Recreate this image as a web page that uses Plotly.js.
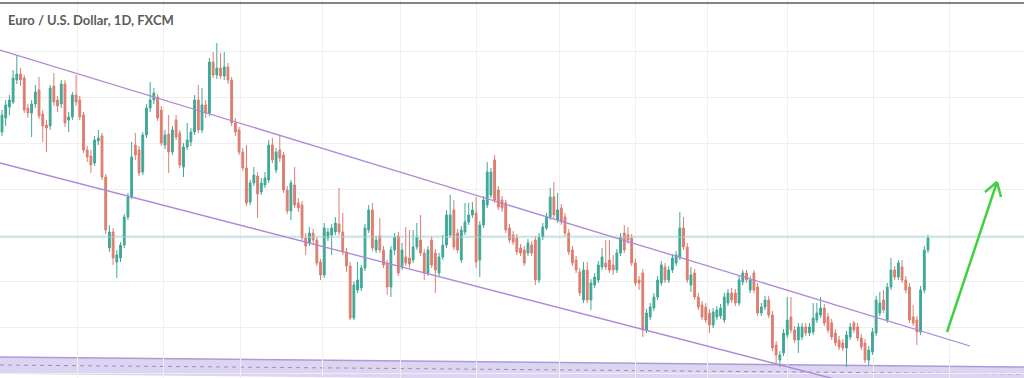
<!DOCTYPE html>
<html>
<head>
<meta charset="utf-8">
<script src="https://cdn.plot.ly/plotly-3.0.1.min.js"></script>
<style>html,body{margin:0;padding:0;background:#fff;}#chart{width:1024px;height:378px;}</style>
</head>
<body>
<div id="chart"></div>
<script>
const titleText = "Euro / U.S. Dollar, 1D, FXCM";

const open = [
1.1768,1.1782,1.1793,1.1798,1.1820,1.1826,1.1822,1.1792,1.1787,1.1796,
1.1810,1.1786,1.1775,1.1774,1.1814,1.1800,1.1796,1.1816,1.1780,1.1783,
1.1805,1.1800,1.1785,1.1750,1.1744,1.1737,1.1759,1.1764,1.1723,1.1652,
1.1668,1.1638,1.1642,1.1655,1.1683,1.1703,1.1755,1.1750,1.1728,1.1765,
1.1792,1.1800,1.1803,1.1790,1.1755,1.1766,1.1748,1.1780,1.1767,1.1733,
1.1753,1.1758,1.1768,1.1800,1.1770,1.1795,1.1787,1.1838,1.1825,1.1832,
1.1824,1.1833,1.1820,1.1777,1.1770,1.1748,1.1732,1.1698,1.1717,1.1724,
1.1708,1.1715,1.1720,1.1755,1.1730,1.1750,1.1745,1.1710,1.1689,1.1715,
1.1697,1.1695,1.1662,1.1657,1.1667,1.1660,1.1638,1.1625,1.1662,1.1665,
1.1668,1.1676,1.1668,1.1648,1.1634,1.1582,1.1610,1.1612,1.1632,1.1670,
1.1690,1.1650,1.1664,1.1650,1.1637,1.1613,1.1650,1.1664,1.1633,1.1643,
1.1642,1.1640,1.1653,1.1660,1.1647,1.1627,1.1660,1.1647,1.1627,1.1643,
1.1655,1.1665,1.1690,1.1667,1.1640,1.1668,1.1678,1.1685,1.1687,1.1640,
1.1675,1.1695,1.1705,1.1740,1.1710,1.1700,1.1697,1.1672,1.1665,1.1662,
1.1652,1.1650,1.1647,1.1655,1.1660,1.1620,1.1663,1.1672,1.1683,1.1703,
1.1680,1.1692,1.1683,1.1667,1.1650,1.1640,1.1628,1.1600,1.1630,1.1600,
1.1615,1.1620,1.1633,1.1637,1.1640,1.1635,1.1630,1.1647,1.1667,1.1665,
1.1662,1.1637,1.1620,1.1627,1.1570,1.1583,1.1592,1.1603,1.1617,1.1633,
1.1620,1.1630,1.1637,1.1643,1.1672,1.1653,1.1615,1.1627,1.1603,1.1595,
1.1593,1.1587,1.1575,1.1583,1.1584,1.1580,1.1597,1.1607,1.1607,1.1597,
1.1618,1.1627,1.1610,1.1627,1.1613,1.1587,1.1593,1.1600,1.1585,1.1555,
1.1540,1.1547,1.1565,1.1583,1.1570,1.1560,1.1563,1.1573,1.1567,1.1568,
1.1580,1.1585,1.1592,1.1583,1.1577,1.1567,1.1560,1.1557,1.1552,1.1563,
1.1577,1.1573,1.1562,1.1557,1.1540,1.1548,1.1567,1.1587,1.1600,1.1580,
1.1613,1.1630,1.1623,1.1633,1.1620,1.1613,1.1583,1.1580,1.1568,1.1610,
1.1650];

const high = [
1.1790,1.1800,1.1805,1.1830,1.1845,1.1832,1.1825,1.1796,1.1800,1.1815,
1.1823,1.1790,1.1780,1.1815,1.1827,1.1804,1.1820,1.1820,1.1788,1.1808,
1.1825,1.1804,1.1788,1.1754,1.1750,1.1764,1.1770,1.1767,1.1726,1.1675,
1.1672,1.1650,1.1658,1.1686,1.1707,1.1758,1.1767,1.1754,1.1768,1.1796,
1.1818,1.1812,1.1806,1.1794,1.1770,1.1785,1.1774,1.1785,1.1770,1.1757,
1.1777,1.1772,1.1805,1.1815,1.1812,1.1800,1.1842,1.1848,1.1857,1.1847,
1.1848,1.1837,1.1823,1.1782,1.1773,1.1752,1.1755,1.1720,1.1733,1.1728,
1.1722,1.1728,1.1760,1.1762,1.1752,1.1765,1.1748,1.1714,1.1720,1.1733,
1.1702,1.1699,1.1667,1.1673,1.1671,1.1663,1.1641,1.1677,1.1672,1.1676,
1.1683,1.1712,1.1687,1.1652,1.1638,1.1619,1.1638,1.1635,1.1676,1.1695,
1.1697,1.1664,1.1682,1.1654,1.1640,1.1654,1.1667,1.1668,1.1657,1.1673,
1.1670,1.1670,1.1677,1.1685,1.1651,1.1654,1.1664,1.1651,1.1647,1.1665,
1.1690,1.1705,1.1700,1.1671,1.1674,1.1697,1.1697,1.1698,1.1703,1.1679,
1.1704,1.1738,1.1732,1.1745,1.1714,1.1704,1.1700,1.1676,1.1669,1.1666,
1.1656,1.1654,1.1661,1.1659,1.1664,1.1667,1.1677,1.1687,1.1712,1.1718,
1.1707,1.1696,1.1687,1.1671,1.1654,1.1644,1.1632,1.1638,1.1638,1.1621,
1.1627,1.1639,1.1652,1.1660,1.1660,1.1645,1.1651,1.1667,1.1675,1.1673,
1.1666,1.1641,1.1624,1.1631,1.1591,1.1597,1.1607,1.1624,1.1639,1.1637,
1.1634,1.1646,1.1649,1.1688,1.1683,1.1657,1.1633,1.1631,1.1607,1.1599,
1.1597,1.1591,1.1592,1.1594,1.1596,1.1607,1.1611,1.1612,1.1611,1.1624,
1.1630,1.1630,1.1624,1.1630,1.1617,1.1597,1.1604,1.1604,1.1589,1.1559,
1.1549,1.1571,1.1603,1.1603,1.1574,1.1577,1.1577,1.1577,1.1577,1.1597,
1.1597,1.1603,1.1596,1.1587,1.1581,1.1571,1.1564,1.1561,1.1569,1.1577,
1.1579,1.1577,1.1566,1.1561,1.1554,1.1572,1.1604,1.1608,1.1610,1.1617,
1.1642,1.1634,1.1640,1.1640,1.1624,1.1617,1.1595,1.1584,1.1614,1.1654,
1.1665];

const low = [
1.1764,1.1774,1.1785,1.1796,1.1816,1.1814,1.1787,1.1782,1.1763,1.1792,
1.1781,1.1758,1.1748,1.1770,1.1794,1.1788,1.1792,1.1773,1.1768,1.1780,
1.1794,1.1780,1.1747,1.1738,1.1727,1.1734,1.1755,1.1720,1.1666,1.1648,
1.1635,1.1622,1.1638,1.1652,1.1680,1.1701,1.1740,1.1724,1.1725,1.1762,
1.1788,1.1796,1.1779,1.1754,1.1751,1.1727,1.1745,1.1760,1.1732,1.1723,
1.1750,1.1754,1.1765,1.1767,1.1767,1.1782,1.1784,1.1822,1.1821,1.1821,
1.1820,1.1816,1.1774,1.1764,1.1745,1.1729,1.1694,1.1695,1.1714,1.1682,
1.1705,1.1712,1.1717,1.1737,1.1727,1.1738,1.1707,1.1686,1.1680,1.1692,
1.1688,1.1659,1.1645,1.1654,1.1656,1.1634,1.1620,1.1622,1.1659,1.1645,
1.1665,1.1665,1.1645,1.1628,1.1580,1.1580,1.1607,1.1609,1.1629,1.1667,
1.1649,1.1647,1.1647,1.1632,1.1605,1.1603,1.1645,1.1624,1.1630,1.1634,
1.1632,1.1637,1.1650,1.1644,1.1620,1.1624,1.1632,1.1607,1.1624,1.1640,
1.1652,1.1662,1.1650,1.1647,1.1637,1.1665,1.1675,1.1682,1.1632,1.1623,
1.1672,1.1692,1.1702,1.1697,1.1690,1.1688,1.1667,1.1657,1.1655,1.1645,
1.1644,1.1634,1.1644,1.1644,1.1615,1.1617,1.1660,1.1670,1.1680,1.1682,
1.1677,1.1675,1.1664,1.1645,1.1634,1.1627,1.1604,1.1597,1.1597,1.1590,
1.1612,1.1617,1.1630,1.1630,1.1627,1.1625,1.1627,1.1644,1.1647,1.1656,
1.1634,1.1614,1.1610,1.1563,1.1567,1.1580,1.1589,1.1600,1.1614,1.1617,
1.1617,1.1627,1.1634,1.1640,1.1650,1.1617,1.1608,1.1600,1.1590,1.1580,
1.1577,1.1567,1.1572,1.1580,1.1581,1.1577,1.1594,1.1597,1.1594,1.1594,
1.1615,1.1617,1.1607,1.1607,1.1584,1.1584,1.1590,1.1582,1.1549,1.1535,
1.1533,1.1544,1.1562,1.1567,1.1557,1.1547,1.1560,1.1564,1.1564,1.1565,
1.1577,1.1582,1.1574,1.1567,1.1560,1.1554,1.1550,1.1549,1.1533,1.1560,
1.1567,1.1559,1.1550,1.1537,1.1535,1.1545,1.1564,1.1584,1.1587,1.1577,
1.1610,1.1620,1.1620,1.1617,1.1607,1.1577,1.1574,1.1555,1.1565,1.1607,
1.1647];

const close = [
1.1785,1.1795,1.1800,1.1822,1.1826,1.1820,1.1790,1.1787,1.1796,1.1808,
1.1784,1.1774,1.1772,1.1812,1.1798,1.1794,1.1816,1.1777,1.1783,1.1805,
1.1798,1.1783,1.1750,1.1743,1.1735,1.1760,1.1762,1.1723,1.1670,1.1668,
1.1642,1.1645,1.1655,1.1683,1.1703,1.1743,1.1745,1.1727,1.1765,1.1792,
1.1800,1.1807,1.1782,1.1757,1.1765,1.1748,1.1770,1.1763,1.1735,1.1753,
1.1760,1.1768,1.1800,1.1770,1.1795,1.1787,1.1838,1.1825,1.1832,1.1824,
1.1833,1.1820,1.1777,1.1768,1.1748,1.1732,1.1697,1.1717,1.1725,1.1706,
1.1717,1.1722,1.1755,1.1740,1.1748,1.1742,1.1710,1.1689,1.1717,1.1695,
1.1692,1.1662,1.1654,1.1667,1.1660,1.1637,1.1625,1.1672,1.1668,1.1672,
1.1677,1.1668,1.1648,1.1634,1.1582,1.1615,1.1620,1.1632,1.1672,1.1690,
1.1652,1.1660,1.1650,1.1635,1.1613,1.1650,1.1663,1.1627,1.1650,1.1637,
1.1636,1.1653,1.1663,1.1647,1.1627,1.1650,1.1635,1.1630,1.1643,1.1655,
1.1685,1.1685,1.1653,1.1650,1.1670,1.1678,1.1685,1.1690,1.1638,1.1675,
1.1700,1.1728,1.1728,1.1700,1.1693,1.1692,1.1670,1.1660,1.1658,1.1648,
1.1647,1.1637,1.1657,1.1647,1.1620,1.1663,1.1673,1.1683,1.1703,1.1685,
1.1690,1.1678,1.1667,1.1648,1.1637,1.1630,1.1607,1.1630,1.1600,1.1617,
1.1623,1.1635,1.1643,1.1633,1.1630,1.1630,1.1647,1.1663,1.1650,1.1660,
1.1637,1.1617,1.1617,1.1570,1.1587,1.1593,1.1603,1.1620,1.1635,1.1620,
1.1630,1.1642,1.1645,1.1672,1.1653,1.1620,1.1625,1.1603,1.1593,1.1583,
1.1580,1.1575,1.1588,1.1590,1.1592,1.1603,1.1607,1.1600,1.1597,1.1620,
1.1627,1.1620,1.1620,1.1610,1.1587,1.1593,1.1600,1.1585,1.1552,1.1545,
1.1545,1.1567,1.1580,1.1570,1.1560,1.1573,1.1573,1.1567,1.1573,1.1582,
1.1587,1.1592,1.1577,1.1570,1.1563,1.1557,1.1553,1.1552,1.1565,1.1573,
1.1570,1.1562,1.1553,1.1540,1.1550,1.1568,1.1600,1.1597,1.1590,1.1613,
1.1630,1.1623,1.1637,1.1620,1.1610,1.1580,1.1577,1.1568,1.1610,1.1650,
1.1662];

// month boundaries (in candle index units) for the vertical grid
const monthLines = [20.5, 43.5, 64.3, 86.4, 107.5, 128.2, 150.6, 170.9, 190.6, 212.2, 235.2, 255.9];
// horizontal grid prices
const priceGrid = [1.1849, 1.1803, 1.1757, 1.1711, 1.1665, 1.1619, 1.1573, 1.1527];
// horizontal support/resistance level
const levelPrice = 1.1663;
// channel lines [x0, y0, x1, y1] in candle index / price
const upperChannel = [-0.54, 1.1850, 261.35, 1.1554];
const lowerChannel = [-0.54, 1.1737, 228.9, 1.1517];
// lower zone band edges (left, right) and its middle dashed line
const zoneTop = [1.1543, 1.1533];
const zoneBottom = [1.1526, 1.1516];
const zoneMid = [1.1535, 1.1526];

const xIdx = close.map((_, i) => i);
const X0 = -0.54, X1 = 275.92;

const trace = {
  type: 'candlestick',
  x: xIdx,
  open: open, high: high, low: low, close: close,
  increasing: {line: {color: '#3fa896', width: 1}, fillcolor: '#3fa896'},
  decreasing: {line: {color: '#de7d70', width: 1}, fillcolor: '#de7d70'},
  whiskerwidth: 0,
  hoverinfo: 'skip'
};

const purple = '#ae88d8';
const shapes = [
  // lower zone band
  {type: 'path', xref: 'x', yref: 'y', layer: 'below',
   path: `M ${X0},${zoneTop[0]} L ${X1},${zoneTop[1]} L ${X1},${zoneBottom[1]} L ${X0},${zoneBottom[0]} Z`,
   fillcolor: '#dcd4f1', line: {width: 0}},
  {type: 'line', xref: 'x', yref: 'y', layer: 'below', x0: X0, x1: X1, y0: zoneTop[0], y1: zoneTop[1],
   line: {color: '#ab9bd8', width: 1.5}},
  {type: 'line', xref: 'x', yref: 'y', layer: 'below', x0: X0, x1: X1, y0: zoneMid[0], y1: zoneMid[1],
   line: {color: '#9a8cc4', width: 1, dash: '4px,4px'}},
  // level line
  {type: 'line', xref: 'paper', yref: 'y', x0: 0, x1: 1, y0: levelPrice, y1: levelPrice,
   line: {color: '#97d3d3', width: 1}},
  // channel
  {type: 'line', xref: 'x', yref: 'y', x0: upperChannel[0], y0: upperChannel[1], x1: upperChannel[2], y1: upperChannel[3],
   line: {color: purple, width: 1.3}},
  {type: 'line', xref: 'x', yref: 'y', x0: lowerChannel[0], y0: lowerChannel[1], x1: lowerChannel[2], y1: lowerChannel[3],
   line: {color: purple, width: 1.3}},
  // top border
  {type: 'line', xref: 'paper', yref: 'paper', x0: 0, x1: 1, y0: 0.992, y1: 0.992,
   line: {color: '#5a5a5a', width: 1.5}},
  // green arrow
  {type: 'line', xref: 'paper', yref: 'paper', x0: 947/1024, y0: 1-332/378, x1: 997/1024, y1: 1-182/378,
   line: {color: '#3fd13f', width: 2.5}},
  {type: 'line', xref: 'paper', yref: 'paper', x0: 985/1024, y0: 1-192/378, x1: 997/1024, y1: 1-182/378,
   line: {color: '#3fd13f', width: 2.5}},
  {type: 'line', xref: 'paper', yref: 'paper', x0: 1001/1024, y0: 1-197/378, x1: 997/1024, y1: 1-182/378,
   line: {color: '#3fd13f', width: 2.5}}
];

const layout = {
  width: 1024, height: 378,
  margin: {l: 0, r: 0, t: 0, b: 0, pad: 0},
  paper_bgcolor: '#ffffff', plot_bgcolor: '#ffffff',
  showlegend: false, hovermode: false,
  xaxis: {range: [X0, X1], tickvals: monthLines, showticklabels: false, ticks: '',
          showgrid: true, gridcolor: '#efefef', gridwidth: 1, zeroline: false, showline: false,
          rangeslider: {visible: false}, fixedrange: true},
  yaxis: {range: [1.1522, 1.1900], tickvals: priceGrid, showticklabels: false, ticks: '',
          showgrid: true, gridcolor: '#efefef', gridwidth: 1, zeroline: false, showline: false, fixedrange: true},
  shapes: shapes,
  annotations: [{
    text: titleText, xref: 'paper', yref: 'paper', x: 6/1024, y: 1-20/378,
    xanchor: 'left', yanchor: 'middle', showarrow: false,
    font: {family: 'Lato, "Open Sans", sans-serif', size: 13, weight: 700, color: '#5c5c5c'}
  }]
};

Plotly.newPlot('chart', [trace], layout, {staticPlot: true, displayModeBar: false});
</script>
</body>
</html>
